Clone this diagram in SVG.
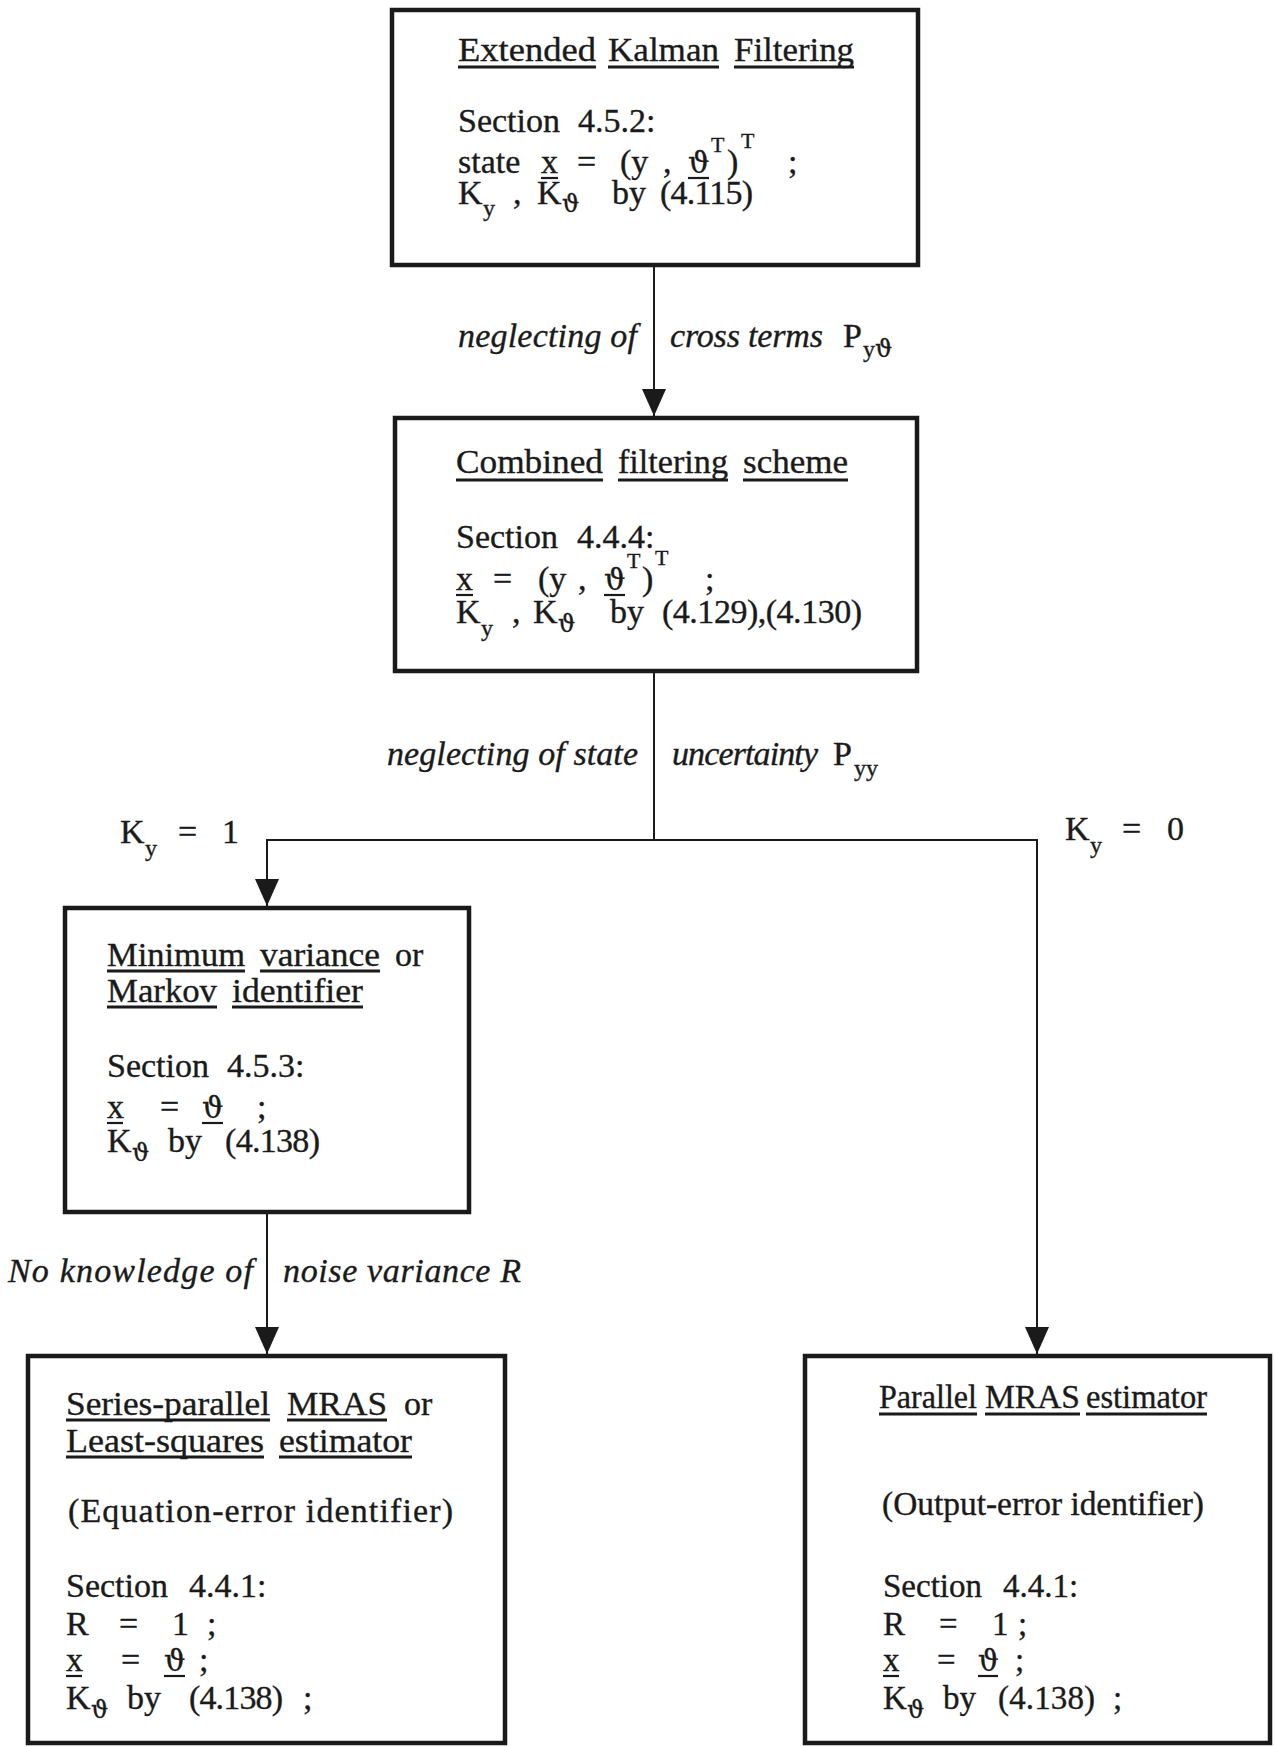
<svg xmlns="http://www.w3.org/2000/svg" width="1275" height="1747" viewBox="0 0 1275 1747">
  <style>
    .t { font-family: "Liberation Serif", "Times New Roman", serif; font-size: 34px; fill: #1a1a1a; stroke: #1a1a1a; stroke-width: 0.35; }
    .s5 { font-size: 33px; }
    .it { font-style: italic; }
    .sub { font-size: 24px; }
    .sup { font-size: 22px; }
    .th { font-family: "DejaVu Serif", "Liberation Serif", serif; }
    .box { fill: #ffffff; stroke: #1a1a1a; stroke-width: 4.5; }
    .wire { fill: none; stroke: #1a1a1a; stroke-width: 2; }
    .ul { stroke: #1a1a1a; stroke-width: 3; }
    .ulx { stroke: #1a1a1a; stroke-width: 2.2; }
  </style>
  <defs>
    <marker id="head" markerUnits="userSpaceOnUse" markerWidth="27" markerHeight="24" viewBox="0 0 27 24" refX="27" refY="12" orient="auto">
      <path d="M0,0 L27,12 L0,24 Z" fill="#1a1a1a"/>
    </marker>
  </defs>
  <rect width="1275" height="1747" fill="#ffffff"/>

  <!-- connectors -->
  <g id="connectors">
    <path class="wire" d="M654,267 V416" marker-end="url(#head)"/>
    <path class="wire" d="M654,673 V840 H267 V906" marker-end="url(#head)"/>
    <path class="wire" d="M654,840 H1037 V1354" marker-end="url(#head)"/>
    <path class="wire" d="M267,1214 V1354" marker-end="url(#head)"/>
  </g>

  <!-- edge labels -->
  <g id="label-cross-terms">
    <text class="t it" x="458" y="347" textLength="179">neglecting of</text>
    <text class="t it" x="670" y="347"><tspan textLength="153">cross terms</tspan><tspan x="843" y="347" style="font-style:normal">P</tspan><tspan class="sub" x="863" y="357" style="font-style:normal">y</tspan><tspan class="sub th" y="357" style="font-style:normal">ϑ</tspan></text>
  </g>
  <g id="label-state-uncertainty">
    <text class="t it" x="387" y="765" textLength="251">neglecting of state</text>
    <text class="t it" x="672" y="765"><tspan textLength="146">uncertainty</tspan><tspan x="833" y="765" style="font-style:normal">P</tspan><tspan class="sub" x="854" y="776" style="font-style:normal">yy</tspan></text>
  </g>
  <g id="label-ky1">
    <text class="t" y="843"><tspan x="120">K</tspan><tspan class="sub" x="145" y="856">y</tspan><tspan x="178" y="843">=</tspan><tspan x="222" y="843">1</tspan></text>
  </g>
  <g id="label-ky0">
    <text class="t" y="840"><tspan x="1065">K</tspan><tspan class="sub" x="1090" y="853">y</tspan><tspan x="1122" y="840">=</tspan><tspan x="1167" y="840">0</tspan></text>
  </g>
  <g id="label-noise">
    <text class="t it" x="8" y="1282" textLength="245">No knowledge of</text>
    <text class="t it" x="283" y="1282" textLength="238">noise variance R</text>
  </g>

  <!-- Extended Kalman Filtering -->
  <g id="ekf">
    <rect class="box" x="392" y="10" width="526" height="255"/>
    <text class="t" y="61"><tspan x="458" textLength="138" lengthAdjust="spacingAndGlyphs">Extended</tspan><tspan x="608" textLength="111" lengthAdjust="spacingAndGlyphs">Kalman</tspan><tspan x="734" textLength="120" lengthAdjust="spacingAndGlyphs">Filtering</tspan></text>
    <line class="ul" x1="458" y1="67" x2="596" y2="67"/>
    <line class="ul" x1="608" y1="67" x2="719" y2="67"/>
    <line class="ul" x1="734" y1="67" x2="854" y2="67"/>
    <text class="t" y="132"><tspan x="458">Section</tspan><tspan x="578">4.5.2:</tspan></text>
    <text class="t" y="173"><tspan x="458">state</tspan><tspan x="541">x</tspan><tspan x="577">=</tspan><tspan x="620">(y</tspan><tspan x="663">,</tspan><tspan class="th" x="688" style="font-size:30px">ϑ</tspan><tspan class="sup" x="711" y="152">T</tspan><tspan x="727" y="173">)</tspan><tspan class="sup" x="741" y="148">T</tspan><tspan x="788" y="173">;</tspan></text>
    <line class="ulx" x1="541" y1="178" x2="558" y2="178"/>
    <line class="ulx" x1="688" y1="178" x2="709" y2="178"/>
    <text class="t" y="204"><tspan x="458">K</tspan><tspan class="sub" x="483" y="216">y</tspan><tspan x="513" y="204">,</tspan><tspan x="537">K</tspan><tspan class="sub th" x="562" y="212">ϑ</tspan><tspan x="612" y="204">by</tspan><tspan x="660" textLength="93">(4.115)</tspan></text>
  </g>

  <!-- Combined filtering scheme -->
  <g id="combined">
    <rect class="box" x="395" y="418" width="522" height="253"/>
    <text class="t" y="473"><tspan x="456" textLength="147" lengthAdjust="spacingAndGlyphs">Combined</tspan><tspan x="618" textLength="110" lengthAdjust="spacingAndGlyphs">filtering</tspan><tspan x="743" textLength="105" lengthAdjust="spacingAndGlyphs">scheme</tspan></text>
    <line class="ul" x1="456" y1="480" x2="603" y2="480"/>
    <line class="ul" x1="618" y1="480" x2="728" y2="480"/>
    <line class="ul" x1="743" y1="480" x2="848" y2="480"/>
    <text class="t" y="548"><tspan x="456">Section</tspan><tspan x="577">4.4.4:</tspan></text>
    <text class="t" y="590"><tspan x="456">x</tspan><tspan x="493">=</tspan><tspan x="538">(y</tspan><tspan x="578">,</tspan><tspan class="th" x="604" style="font-size:30px">ϑ</tspan><tspan class="sup" x="627" y="568">T</tspan><tspan x="642" y="590">)</tspan><tspan class="sup" x="655" y="565">T</tspan><tspan x="705" y="590">;</tspan></text>
    <line class="ulx" x1="456" y1="595" x2="473" y2="595"/>
    <line class="ulx" x1="604" y1="595" x2="625" y2="595"/>
    <text class="t" y="623"><tspan x="456">K</tspan><tspan class="sub" x="481" y="636">y</tspan><tspan x="512" y="623">,</tspan><tspan x="533">K</tspan><tspan class="sub th" x="558" y="632">ϑ</tspan><tspan x="610" y="623">by</tspan><tspan x="662" textLength="200">(4.129),(4.130)</tspan></text>
  </g>

  <!-- Minimum variance / Markov identifier -->
  <g id="markov">
    <rect class="box" x="65" y="908" width="404" height="304"/>
    <text class="t" y="966"><tspan x="107" textLength="138" lengthAdjust="spacingAndGlyphs">Minimum</tspan><tspan x="260" textLength="120" lengthAdjust="spacingAndGlyphs">variance</tspan><tspan x="395">or</tspan></text>
    <line class="ul" x1="107" y1="971" x2="245" y2="971"/>
    <line class="ul" x1="260" y1="971" x2="380" y2="971"/>
    <text class="t" y="1002"><tspan x="107" textLength="110" lengthAdjust="spacingAndGlyphs">Markov</tspan><tspan x="232" textLength="131" lengthAdjust="spacingAndGlyphs">identifier</tspan></text>
    <line class="ul" x1="107" y1="1007" x2="217" y2="1007"/>
    <line class="ul" x1="232" y1="1007" x2="363" y2="1007"/>
    <text class="t" y="1077"><tspan x="107">Section</tspan><tspan x="227">4.5.3:</tspan></text>
    <text class="t" y="1118"><tspan x="107">x</tspan><tspan x="160">=</tspan><tspan class="th" x="202" style="font-size:30px">ϑ</tspan><tspan x="257">;</tspan></text>
    <line class="ulx" x1="107" y1="1123" x2="123" y2="1123"/>
    <line class="ulx" x1="202" y1="1123" x2="223" y2="1123"/>
    <text class="t" y="1152"><tspan x="107">K</tspan><tspan class="sub th" x="132" y="1161">ϑ</tspan><tspan x="168" y="1152">by</tspan><tspan x="225" textLength="95">(4.138)</tspan></text>
  </g>

  <!-- Series-parallel MRAS / least squares -->
  <g id="series-parallel">
    <rect class="box" x="28" y="1356" width="477" height="387"/>
    <text class="t" y="1415"><tspan x="66" textLength="204" lengthAdjust="spacingAndGlyphs">Series-parallel</tspan><tspan x="287" textLength="100" lengthAdjust="spacingAndGlyphs">MRAS</tspan><tspan x="404">or</tspan></text>
    <line class="ul" x1="66" y1="1420" x2="270" y2="1420"/>
    <line class="ul" x1="287" y1="1420" x2="387" y2="1420"/>
    <text class="t" y="1452"><tspan x="66" textLength="198" lengthAdjust="spacingAndGlyphs">Least-squares</tspan><tspan x="279" textLength="133" lengthAdjust="spacingAndGlyphs">estimator</tspan></text>
    <line class="ul" x1="66" y1="1457" x2="264" y2="1457"/>
    <line class="ul" x1="279" y1="1457" x2="412" y2="1457"/>
    <text class="t" x="68" y="1522" textLength="385">(Equation-error identifier)</text>
    <text class="t" y="1597"><tspan x="66">Section</tspan><tspan x="189">4.4.1:</tspan></text>
    <text class="t" y="1635"><tspan x="66">R</tspan><tspan x="119">=</tspan><tspan x="172">1</tspan><tspan x="207">;</tspan></text>
    <text class="t" y="1671"><tspan x="66">x</tspan><tspan x="121">=</tspan><tspan class="th" x="164" style="font-size:30px">ϑ</tspan><tspan x="199">;</tspan></text>
    <line class="ulx" x1="66" y1="1676" x2="82" y2="1676"/>
    <line class="ulx" x1="164" y1="1676" x2="185" y2="1676"/>
    <text class="t" y="1709"><tspan x="66">K</tspan><tspan class="sub th" x="91" y="1718">ϑ</tspan><tspan x="127" y="1709">by</tspan><tspan x="189" textLength="94">(4.138)</tspan><tspan x="303">;</tspan></text>
  </g>

  <!-- Parallel MRAS estimator -->
  <g id="parallel">
    <rect class="box" x="805" y="1356" width="465" height="387"/>
    <text class="t s5" y="1408"><tspan x="879" textLength="98" lengthAdjust="spacingAndGlyphs">Parallel</tspan><tspan x="985" textLength="95" lengthAdjust="spacingAndGlyphs">MRAS</tspan><tspan x="1086" textLength="121" lengthAdjust="spacingAndGlyphs">estimator</tspan></text>
    <line class="ul" x1="879" y1="1414" x2="977" y2="1414"/>
    <line class="ul" x1="985" y1="1414" x2="1080" y2="1414"/>
    <line class="ul" x1="1086" y1="1414" x2="1207" y2="1414"/>
    <text class="t s5" x="882" y="1515" textLength="322" lengthAdjust="spacingAndGlyphs">(Output-error identifier)</text>
    <text class="t s5" y="1597"><tspan x="883">Section</tspan><tspan x="1003">4.4.1:</tspan></text>
    <text class="t s5" y="1635"><tspan x="883">R</tspan><tspan x="939">=</tspan><tspan x="992">1</tspan><tspan x="1018">;</tspan></text>
    <text class="t s5" y="1671"><tspan x="883">x</tspan><tspan x="937">=</tspan><tspan class="th" x="978" style="font-size:29px">ϑ</tspan><tspan x="1015">;</tspan></text>
    <line class="ulx" x1="883" y1="1676" x2="899" y2="1676"/>
    <line class="ulx" x1="978" y1="1676" x2="998" y2="1676"/>
    <text class="t s5" y="1709"><tspan x="883">K</tspan><tspan class="sub th" x="907" y="1718">ϑ</tspan><tspan x="943" y="1709">by</tspan><tspan x="998" textLength="97">(4.138)</tspan><tspan x="1113">;</tspan></text>
  </g>
</svg>
